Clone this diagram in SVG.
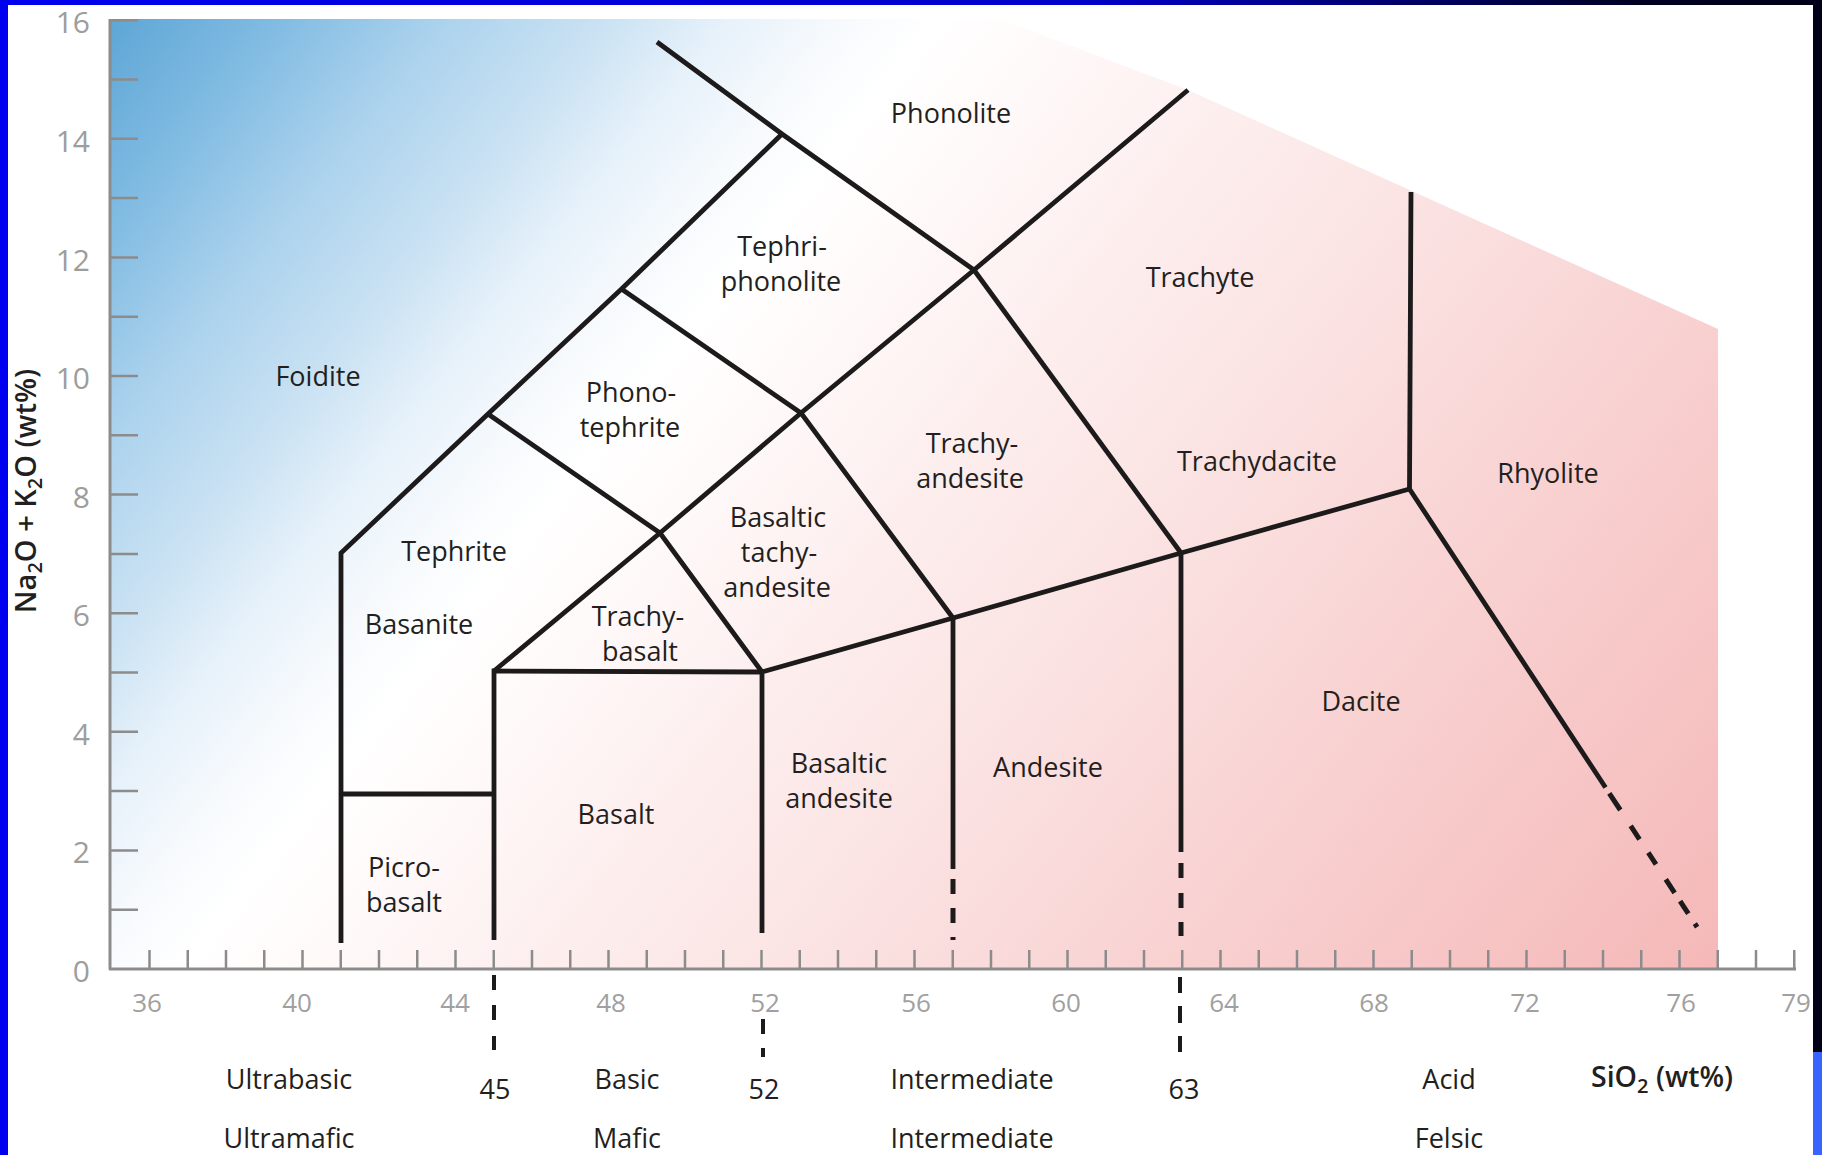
<svg xmlns="http://www.w3.org/2000/svg" width="1822" height="1155" viewBox="0 0 1822 1155">
<defs>
<linearGradient id="fillGrad" gradientUnits="userSpaceOnUse" x1="110" y1="19" x2="1555" y2="1175">
<stop offset="0" stop-color="#5ea6d6"/>
<stop offset="0.07" stop-color="#80bbe2"/>
<stop offset="0.14" stop-color="#abd2ed"/>
<stop offset="0.21" stop-color="#cae2f3"/>
<stop offset="0.26" stop-color="#e6f1fa"/>
<stop offset="0.31" stop-color="#f7fafd"/>
<stop offset="0.35" stop-color="#ffffff"/>
<stop offset="0.4" stop-color="#fffafa"/>
<stop offset="0.5" stop-color="#fdeeee"/>
<stop offset="0.62" stop-color="#fbe2e2"/>
<stop offset="0.8" stop-color="#f8cdcd"/>
<stop offset="1" stop-color="#f5b8b8"/>
</linearGradient>
<linearGradient id="topGrad" x1="0" y1="0" x2="1" y2="0">
<stop offset="0" stop-color="#0000f0"/>
<stop offset="0.6" stop-color="#0000c8"/>
<stop offset="0.9" stop-color="#000022"/>
<stop offset="1" stop-color="#000018"/>
</linearGradient>
<style>
.axis{stroke:#8c8c8c;stroke-width:3;fill:none}
.tick{stroke:#8c8c8c;stroke-width:2.5;fill:none}
.bnd{stroke:#1c1a1a;stroke-width:4.8;fill:none;stroke-linejoin:miter;stroke-linecap:butt}
.dash{stroke:#1c1a1a;stroke-width:5;fill:none;stroke-linecap:butt}
.dashb{stroke:#1c1a1a;stroke-width:4;fill:none;stroke-linecap:butt}
.lbl{font-family:"Open Sans","Liberation Sans",sans-serif;font-size:27px;fill:#231f20;text-anchor:middle}
.ytl{font-family:"Open Sans","Liberation Sans",sans-serif;font-size:30px;fill:#9d9d9d;text-anchor:end}
.xtl{font-family:"Open Sans","Liberation Sans",sans-serif;font-size:26px;fill:#a0a0a0;text-anchor:middle}
.ttl{font-family:"Open Sans","Liberation Sans",sans-serif;font-weight:600;fill:#231f20}
</style>
</defs>
<rect x="0" y="0" width="1822" height="1155" fill="#ffffff"/>
<g id="plot-fill">
<polygon points="110,19 1000,19 1188,90 1718,329 1718,969 110,969" fill="url(#fillGrad)"/>
</g>
<g id="axes">
<path class="axis" d="M110 19V969.5 M109 969H1796"/>
<path class="tick" d="M110 909.7H138 M110 850.4H138 M110 791.1H138 M110 731.8H138 M110 672.5H138 M110 613.2H138 M110 553.9H138 M110 494.6H138 M110 435.3H138 M110 376H138 M110 316.7H138 M110 257.4H138 M110 198.1H138 M110 138.8H138 M110 79.5H138 M110 20.2H138"/>
<path class="tick" d="M149.5 950V969 M187.75 950V969 M226 950V969 M264.25 950V969 M302.5 950V969 M340.75 950V969 M379 950V969 M417.25 950V969 M455.5 950V969 M493.75 950V969 M532 950V969 M570.25 950V969 M608.5 950V969 M646.75 950V969 M685 950V969 M723.25 950V969 M761.5 950V969 M799.75 950V969 M838 950V969 M876.25 950V969 M914.5 950V969 M952.75 950V969 M991 950V969 M1029.25 950V969 M1067.5 950V969 M1105.75 950V969 M1144 950V969 M1182.25 950V969 M1220.5 950V969 M1258.75 950V969 M1297 950V969 M1335.25 950V969 M1373.5 950V969 M1411.75 950V969 M1450 950V969 M1488.25 950V969 M1526.5 950V969 M1564.75 950V969 M1603 950V969 M1641.25 950V969 M1679.5 950V969 M1717.75 950V969 M1756 950V969 M1794.25 950V969"/>
<g id="y-tick-labels">
<text class="ytl" x="90" y="33">16</text>
<text class="ytl" x="90" y="152">14</text>
<text class="ytl" x="90" y="271">12</text>
<text class="ytl" x="90" y="389">10</text>
<text class="ytl" x="90" y="508">8</text>
<text class="ytl" x="90" y="626">6</text>
<text class="ytl" x="90" y="745">4</text>
<text class="ytl" x="90" y="863">2</text>
<text class="ytl" x="90" y="982">0</text>
</g>
<g id="x-tick-labels">
<text class="xtl" x="147" y="1012">36</text>
<text class="xtl" x="297" y="1012">40</text>
<text class="xtl" x="455" y="1012">44</text>
<text class="xtl" x="611" y="1012">48</text>
<text class="xtl" x="765" y="1012">52</text>
<text class="xtl" x="916" y="1012">56</text>
<text class="xtl" x="1066" y="1012">60</text>
<text class="xtl" x="1224" y="1012">64</text>
<text class="xtl" x="1374" y="1012">68</text>
<text class="xtl" x="1525" y="1012">72</text>
<text class="xtl" x="1681" y="1012">76</text>
<text class="xtl" x="1796" y="1012">79</text>
</g>
<text id="y-title" class="ttl" font-size="29" text-anchor="middle" transform="translate(36,491) rotate(-90)">Na<tspan font-size="20" dy="6">2</tspan><tspan dy="-6">O + K</tspan><tspan font-size="20" dy="6">2</tspan><tspan dy="-6">O (wt%)</tspan></text>
<text id="x-title" class="ttl" font-size="28.5" x="1591" y="1087">SiO<tspan font-size="20" dy="6">2</tspan><tspan dy="-6"> (wt%)</tspan></text>
</g>
<g id="connectors">
<path class="bnd" d="M341 943V553L488 414L621.5 289L782 134"/>
<path class="bnd" d="M657 42L782 134L974 270L1188 90"/>
<path class="bnd" d="M341 794H494"/>
<path class="bnd" d="M494 940V671L762 672"/>
<path class="bnd" d="M494 671L660 533L801 413L974 270"/>
<path class="bnd" d="M488 414L660 533L762 672"/>
<path class="bnd" d="M621.5 289L801 413L953 618"/>
<path class="bnd" d="M762 933V672L953 618L1181 553L1409.5 489"/>
<path class="bnd" d="M974 270L1181 553"/>
<path class="bnd" d="M953 618V869"/>
<path class="bnd" d="M1181 553V852"/>
<path class="bnd" d="M1411 192L1409.5 489L1605.5 787.5"/>
<path class="dash" d="M953 879V894 M953 908V923 M953 937V940"/>
<path class="dash" d="M1181 863V878 M1181 893V908 M1181 922V936"/>
<path class="dash" d="M1609.3 793.3L1620.3 810 M1630.7 825.9L1639.5 839.3 M1648.3 852.7L1656 864.4 M1665.8 879.4L1674.6 892.8 M1680.1 901.1L1688.3 913.7 M1694.9 923.7L1697.1 927.1"/>
<path class="dashb" d="M494 975V990 M494 1005V1020 M494 1036V1050"/>
<path class="dashb" d="M763 1019V1034 M763 1048V1057"/>
<path class="dashb" d="M1180 977V993 M1180 1006V1023 M1180 1036V1052"/>
</g>
<g id="region-labels">
<g id="foidite"><text class="lbl" x="318" y="386">Foidite</text></g>
<g id="phonolite"><text class="lbl" x="951" y="123">Phonolite</text></g>
<g id="tephriphonolite"><text class="lbl" x="782" y="256">Tephri-</text><text class="lbl" x="781" y="291">phonolite</text></g>
<g id="phonotephrite"><text class="lbl" x="631" y="402">Phono-</text><text class="lbl" x="630" y="437">tephrite</text></g>
<g id="trachyte"><text class="lbl" x="1200" y="287">Trachyte</text></g>
<g id="trachyandesite"><text class="lbl" x="972" y="453">Trachy-</text><text class="lbl" x="970" y="488">andesite</text></g>
<g id="trachydacite"><text class="lbl" x="1257" y="471">Trachydacite</text></g>
<g id="rhyolite"><text class="lbl" x="1548" y="483">Rhyolite</text></g>
<g id="basaltic-trachyandesite"><text class="lbl" x="778" y="527">Basaltic</text><text class="lbl" x="779" y="562">tachy-</text><text class="lbl" x="777" y="597">andesite</text></g>
<g id="tephrite"><text class="lbl" x="454" y="561">Tephrite</text></g>
<g id="basanite"><text class="lbl" x="419" y="634">Basanite</text></g>
<g id="trachybasalt"><text class="lbl" x="638" y="626">Trachy-</text><text class="lbl" x="640" y="661">basalt</text></g>
<g id="dacite"><text class="lbl" x="1361" y="711">Dacite</text></g>
<g id="basaltic-andesite"><text class="lbl" x="839" y="773">Basaltic</text><text class="lbl" x="839" y="808">andesite</text></g>
<g id="andesite"><text class="lbl" x="1048" y="777">Andesite</text></g>
<g id="basalt"><text class="lbl" x="616" y="824">Basalt</text></g>
<g id="picrobasalt"><text class="lbl" x="404" y="877">Picro-</text><text class="lbl" x="404" y="912">basalt</text></g>
</g>
<g id="class-labels">
<text class="lbl" x="289" y="1089">Ultrabasic</text>
<text class="lbl" x="495" y="1099">45</text>
<text class="lbl" x="627" y="1089">Basic</text>
<text class="lbl" x="764" y="1099">52</text>
<text class="lbl" x="972" y="1089">Intermediate</text>
<text class="lbl" x="1184" y="1099">63</text>
<text class="lbl" x="1449" y="1089">Acid</text>
<text class="lbl" x="289" y="1148">Ultramafic</text>
<text class="lbl" x="627" y="1148">Mafic</text>
<text class="lbl" x="972" y="1148">Intermediate</text>
<text class="lbl" x="1449" y="1148">Felsic</text>
</g>
<g id="frame">
<rect x="0" y="0" width="1822" height="5" fill="url(#topGrad)"/>
<rect x="0" y="0" width="8" height="1155" fill="#0000f0"/>
<rect x="1813" y="0" width="9" height="1052" fill="#000018"/>
<rect x="1813" y="1052" width="9" height="103" fill="#3a64ff"/>
</g>
</svg>
